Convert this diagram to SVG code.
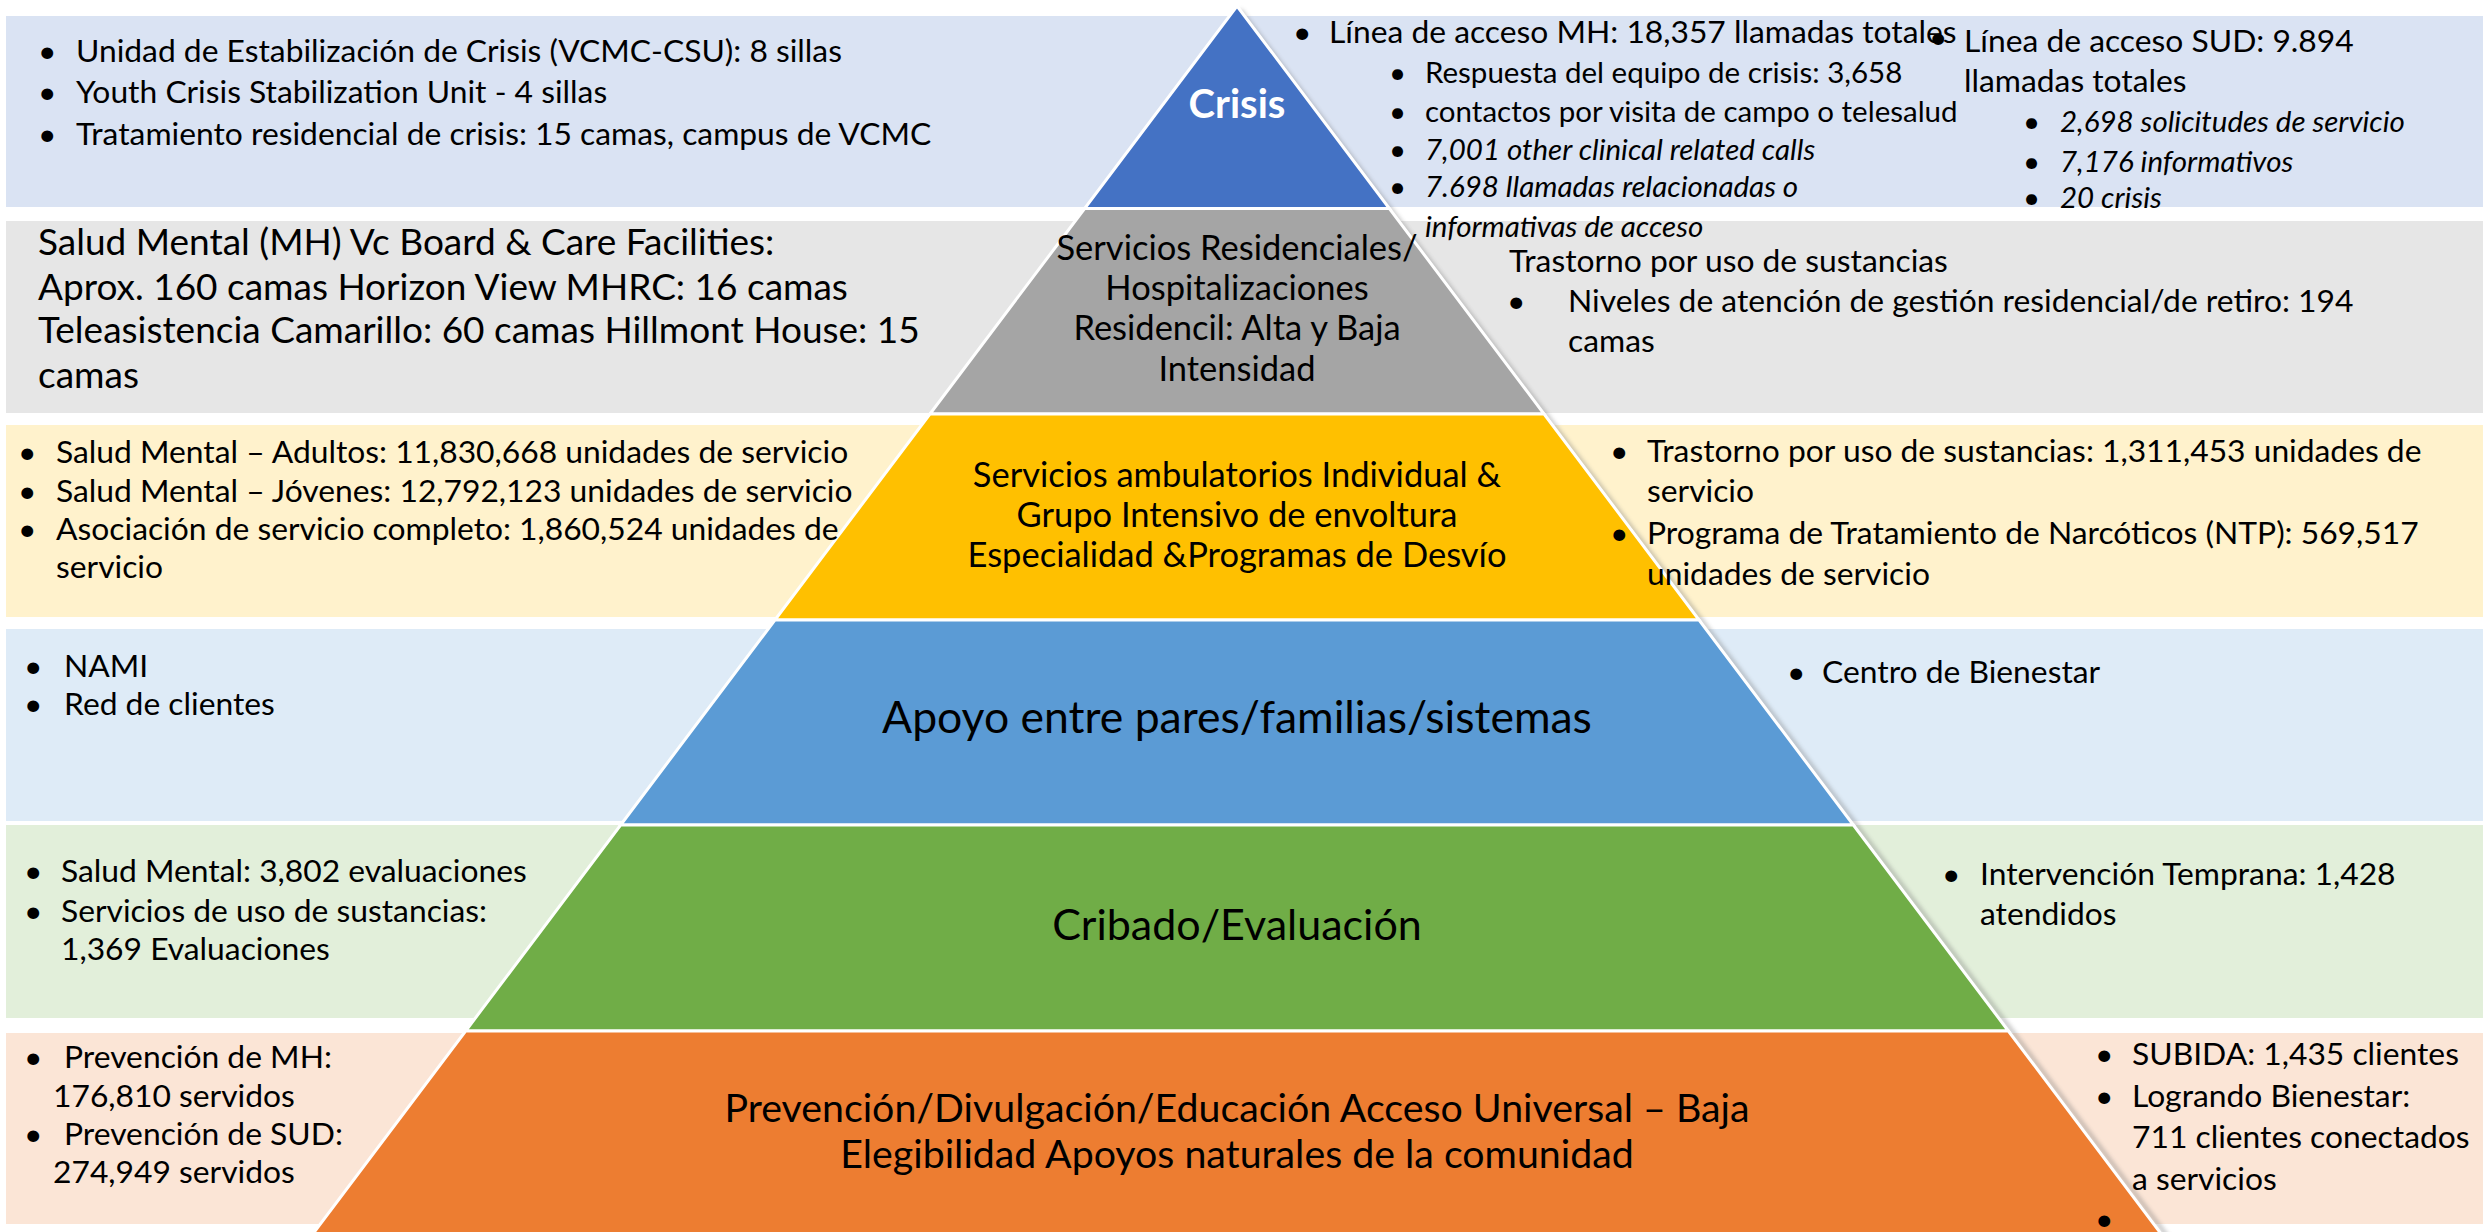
<svg xmlns="http://www.w3.org/2000/svg" width="2483" height="1232" viewBox="0 0 2483 1232">
<style>
  text { font-family: Lato, "Liberation Sans", sans-serif; fill: #000; }
  .t { font-size: 31.8px; }
  .s { font-size: 29.5px; }
  .si { font-size: 29.5px; font-style: italic; }
  .g { font-size: 37px; }
  .lbl { text-anchor: middle; font-size: 34.5px; }
  .mid { text-anchor: middle; font-size: 39.3px; }
  .slice { stroke: #fff; stroke-width: 3; stroke-linejoin: miter; }
</style>
<defs>
  <filter id="blur" x="-10%" y="-10%" width="120%" height="120%"><feGaussianBlur stdDeviation="2"/></filter>
</defs>
<rect width="2483" height="1232" fill="#fff"/>

<!-- background bands -->
<g id="bands">
  <rect x="6" y="16" width="2477" height="191" fill="#DAE3F3"/>
  <rect x="6" y="221" width="2477" height="192" fill="#E6E6E6"/>
  <rect x="6" y="425" width="2477" height="192" fill="#FFF2CC"/>
  <rect x="6" y="629" width="2477" height="192" fill="#DEEBF7"/>
  <rect x="6" y="825" width="2477" height="193" fill="#E2EFDA"/>
  <rect x="6" y="1033" width="2477" height="191" fill="#FBE5D6"/>
</g>

<!-- pyramid shadow on right edge -->
<polyline points="1240,10 2170,1240" fill="none" stroke="#777" stroke-width="4" opacity="0.45" filter="url(#blur)"/>

<g id="tier-crisis">
  <polygon class="slice" points="1237,6 1389.4,208.5 1084.6,208.5" fill="#4472C4"/>
  <text x="1237" y="118" text-anchor="middle" font-size="40" font-weight="bold" style="fill:#fff">Crisis</text>
</g>
<g id="tier-residencial">
  <polygon class="slice" points="1084.6,208.5 1389.4,208.5 1544.1,414 929.9,414" fill="#A5A5A5"/>
  <text class="lbl" x="1237" y="260">Servicios Residenciales/</text>
  <text class="lbl" x="1237" y="300">Hospitalizaciones</text>
  <text class="lbl" x="1237" y="340">Residencil: Alta y Baja</text>
  <text class="lbl" x="1237" y="381">Intensidad</text>
</g>
<g id="tier-ambulatorio">
  <polygon class="slice" points="929.9,414 1544.1,414 1699.1,620 774.9,620" fill="#FFC000"/>
  <text class="lbl" x="1237" y="487">Servicios ambulatorios Individual &amp;</text>
  <text class="lbl" x="1237" y="527">Grupo Intensivo de envoltura</text>
  <text class="lbl" x="1237" y="567">Especialidad &amp;Programas de Desvío</text>
</g>
<g id="tier-apoyo">
  <polygon class="slice" points="774.9,620 1699.1,620 1853.4,825 620.6,825" fill="#5B9BD5"/>
  <text x="1237" y="733" text-anchor="middle" font-size="44.5">Apoyo entre pares/familias/sistemas</text>
</g>
<g id="tier-cribado">
  <polygon class="slice" points="620.6,825 1853.4,825 2008.4,1031 465.6,1031" fill="#70AD47"/>
  <text x="1237" y="940" text-anchor="middle" font-size="43">Cribado/Evaluación</text>
</g>
<g id="tier-prevencion">
  <polygon class="slice" points="465.6,1031 2008.4,1031 2165.7,1240 308.3,1240" fill="#ED7D31"/>
  <text class="mid" x="1237" y="1122">Prevención/Divulgación/Educación Acceso Universal – Baja</text>
  <text class="mid" x="1237" y="1168">Elegibilidad Apoyos naturales de la comunidad</text>
</g>

<!-- band 1 texts -->
<g id="crisis-left">
  <text class="t" x="38" y="62">•</text><text class="t" x="76" y="62">Unidad de Estabilización de Crisis (VCMC-CSU): 8 sillas</text>
  <text class="t" x="38" y="103">•</text><text class="t" x="76" y="103">Youth Crisis Stabilization Unit - 4 sillas</text>
  <text class="t" x="38" y="145">•</text><text class="t" x="76" y="145">Tratamiento residencial de crisis: 15 camas, campus de VCMC</text>
</g>
<g id="crisis-right">
  <text class="t" x="1293" y="43">•</text><text class="t" x="1329" y="43">Línea de acceso MH: 18,357 llamadas totales</text>
  <text class="s" x="1389" y="83">•</text><text class="s" x="1425" y="83">Respuesta del equipo de crisis: 3,658</text>
  <text class="s" x="1389" y="122">•</text><text class="s" x="1425" y="122">contactos por visita de campo o telesalud</text>
  <text class="s" x="1389" y="160">•</text><text class="si" x="1425" y="160">7,001 other clinical related calls</text>
  <text class="s" x="1389" y="197">•</text><text class="si" x="1425" y="197">7.698 llamadas relacionadas o</text>
  <text class="si" x="1425" y="237">informativas de acceso</text>
  <text class="t" x="1929" y="48">•</text><text class="t" x="1964" y="52">Línea de acceso SUD: 9.894</text>
  <text class="t" x="1964" y="92">llamadas totales</text>
  <text class="s" x="2023" y="132">•</text><text class="si" x="2060" y="132">2,698 solicitudes de servicio</text>
  <text class="s" x="2023" y="172">•</text><text class="si" x="2060" y="172">7,176 informativos</text>
  <text class="s" x="2023" y="208">•</text><text class="si" x="2060" y="208">20 crisis</text>
</g>

<!-- band 2 texts -->
<g id="residencial-left">
  <text class="g" x="38" y="255">Salud Mental (MH) Vc Board &amp; Care Facilities:</text>
  <text class="g" x="38" y="300">Aprox. 160 camas Horizon View MHRC: 16 camas</text>
  <text class="g" x="38" y="343">Teleasistencia Camarillo: 60 camas Hillmont House: 15</text>
  <text class="g" x="38" y="388">camas</text>
</g>
<g id="residencial-right">
  <text class="t" x="1509" y="272">Trastorno por uso de sustancias</text>
  <text class="t" x="1507" y="312">•</text><text class="t" x="1568" y="312">Niveles de atención de gestión residencial/de retiro: 194</text>
  <text class="t" x="1568" y="352">camas</text>
</g>

<!-- band 3 texts -->
<g id="ambulatorio-left">
  <text class="t" x="18" y="463">•</text><text class="t" x="56" y="463">Salud Mental – Adultos: 11,830,668 unidades de servicio</text>
  <text class="t" x="18" y="502">•</text><text class="t" x="56" y="502">Salud Mental – Jóvenes: 12,792,123 unidades de servicio</text>
  <text class="t" x="18" y="540">•</text><text class="t" x="56" y="540">Asociación de servicio completo: 1,860,524 unidades de</text>
  <text class="t" x="56" y="578">servicio</text>
</g>
<g id="ambulatorio-right">
  <text class="t" x="1610" y="462">•</text><text class="t" x="1647" y="462">Trastorno por uso de sustancias: 1,311,453 unidades de</text>
  <text class="t" x="1647" y="502">servicio</text>
  <text class="t" x="1610" y="544">•</text><text class="t" x="1647" y="544">Programa de Tratamiento de Narcóticos (NTP): 569,517</text>
  <text class="t" x="1647" y="585">unidades de servicio</text>
</g>

<!-- band 4 texts -->
<g id="apoyo-left">
  <text class="t" x="24" y="677">•</text><text class="t" x="64" y="677">NAMI</text>
  <text class="t" x="24" y="715">•</text><text class="t" x="64" y="715">Red de clientes</text>
</g>
<g id="apoyo-right">
  <text class="t" x="1787" y="683">•</text><text class="t" x="1822" y="683">Centro de Bienestar</text>
</g>

<!-- band 5 texts -->
<g id="cribado-left">
  <text class="t" x="24" y="882">•</text><text class="t" x="61" y="882">Salud Mental: 3,802 evaluaciones</text>
  <text class="t" x="24" y="922">•</text><text class="t" x="61" y="922">Servicios de uso de sustancias:</text>
  <text class="t" x="61" y="960">1,369 Evaluaciones</text>
</g>
<g id="cribado-right">
  <text class="t" x="1942" y="885">•</text><text class="t" x="1980" y="885">Intervención Temprana: 1,428</text>
  <text class="t" x="1980" y="925">atendidos</text>
</g>

<!-- band 6 texts -->
<g id="prevencion-left">
  <text class="t" x="24" y="1068">•</text><text class="t" x="64" y="1068">Prevención de MH:</text>
  <text class="t" x="53" y="1107">176,810 servidos</text>
  <text class="t" x="24" y="1145">•</text><text class="t" x="64" y="1145">Prevención de SUD:</text>
  <text class="t" x="53" y="1183">274,949 servidos</text>
</g>
<g id="prevencion-right">
  <text class="t" x="2095" y="1065">•</text><text class="t" x="2132" y="1065">SUBIDA: 1,435 clientes</text>
  <text class="t" x="2095" y="1107">•</text><text class="t" x="2132" y="1107">Logrando Bienestar:</text>
  <text class="t" x="2132" y="1148">711 clientes conectados</text>
  <text class="t" x="2132" y="1190">a servicios</text>
  <text class="t" x="2095" y="1230">•</text>
</g>
</svg>
